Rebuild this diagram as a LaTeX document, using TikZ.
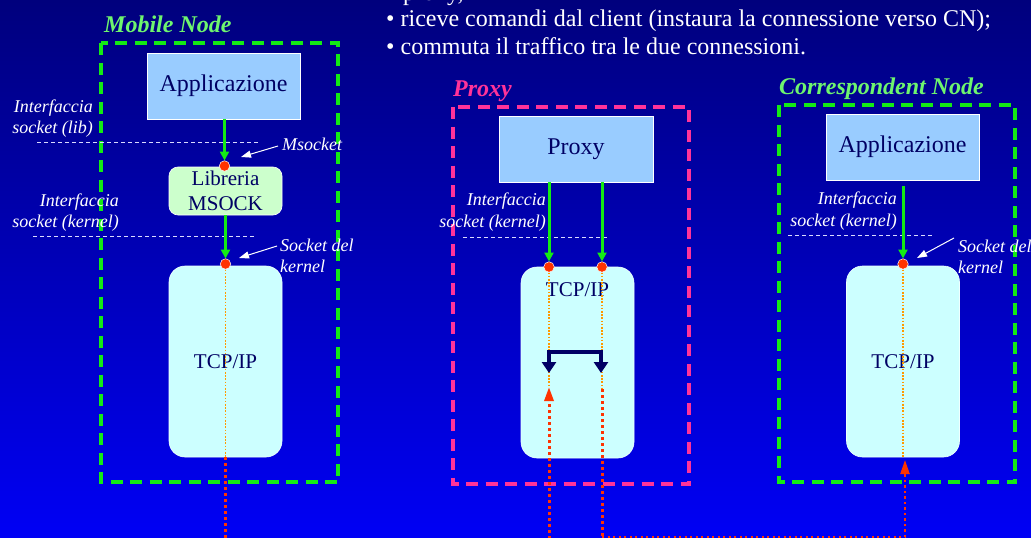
\documentclass[tikz,border=0pt]{standalone}
\usepackage{fontspec}
\setmainfont{Liberation Serif}
\usetikzlibrary{arrows.meta}

\definecolor{bgtop}{RGB}{0,0,125}
\definecolor{bgbot}{RGB}{0,0,245}
\definecolor{framegreen}{RGB}{20,235,20}
\definecolor{titlegreen}{RGB}{110,245,110}
\definecolor{proxypink}{RGB}{255,51,153}
\definecolor{appblue}{RGB}{153,204,255}
\definecolor{libgreen}{RGB}{204,255,204}
\definecolor{tcpcyan}{RGB}{204,255,255}
\definecolor{ink}{RGB}{0,0,100}
\definecolor{dotred}{RGB}{255,51,0}
\definecolor{traceorange}{RGB}{255,153,0}

\tikzset{
  bullettext/.style={text=white, inner sep=0pt, font=\fontsize{24}{27}\selectfont},
  title/.style={inner sep=0pt, font=\fontsize{24}{27}\selectfont\bfseries\itshape},
  hostframe/.style={line width=3.2pt, dash pattern=on 12pt off 7.5pt},
  appbox/.style={draw=white, line width=0.8pt, fill=appblue, text=ink, inner sep=0pt,
    minimum width=153pt, minimum height=66pt, font=\fontsize{24}{27}\selectfont},
  libbox/.style={draw=white, line width=0.6pt, fill=libgreen, text=ink, inner sep=0pt,
    rounded corners=9pt, minimum width=113pt, minimum height=48pt, align=center,
    font=\fontsize{21}{25}\selectfont},
  tcpbox/.style={draw=white!70!tcpcyan, line width=0.6pt, fill=tcpcyan, text=ink, inner sep=0pt,
    rounded corners=16pt, minimum width=113pt, minimum height=191pt,
    font=\fontsize{21}{25}\selectfont},
  tcptext/.style={text=ink, inner sep=0pt, font=\fontsize{21}{25}\selectfont},
  sockdot/.style={circle, fill=dotred, draw=white, line width=0.5pt, inner sep=0pt, minimum size=10.5pt},
  api/.style={draw=framegreen, line width=3pt, -{Triangle[length=9pt,width=9pt]}},
  note/.style={text=white, inner sep=0pt, font=\fontsize{18}{21.5}\selectfont\itshape},
  sep/.style={draw=white!85!blue, line width=0.8pt, dash pattern=on 4pt off 3pt},
  pointer/.style={draw=white, line width=1pt, -{Triangle[length=10pt,width=7pt]}},
  trace/.style={draw=traceorange, line width=1.6pt, dash pattern=on 1.6pt off 1.6pt},
  flow/.style={draw=dotred, line width=3pt, dash pattern=on 3pt off 3pt},
  flowthin/.style={draw=dotred, line width=2.2pt, dash pattern=on 2.2pt off 3.3pt},
  uptip/.style={-{Triangle[length=14pt,width=9pt]}},
  switchpath/.style={draw=ink, line width=4pt,
    {Triangle[length=11pt,width=14pt]}-{Triangle[length=11pt,width=14pt]}}
}

\begin{document}
\begin{tikzpicture}[x=1pt,y=-1pt]
\useasboundingbox (0,0) rectangle (1031,538);
\clip (0,0) rectangle (1031,538);
\shade[top color=bgtop, bottom color=bgbot] (0,0) rectangle (1031,538);

% bullet list at the top
\node[bullettext, anchor=base west] (cutline) at (403,1) {proxy,};
\node[bullettext, anchor=base west] (bulletA) at (386,27) {• riceve comandi dal client (instaura la connessione verso CN);};
\node[bullettext, anchor=base west] (bulletB) at (386,54) {• commuta il traffico tra le due connessioni.};

% host frames and titles
\draw[hostframe, framegreen] (101,43) rectangle (338,482);
\draw[hostframe, proxypink] (453,107) rectangle (689,484);
\draw[hostframe, framegreen] (779,105) rectangle (1015,482);

\node[title, text=titlegreen, anchor=base west] (mnTitle) at (104,32) {Mobile Node};
\node[title, text=proxypink, anchor=base west] (pxTitle) at (453,96) {Proxy};
\node[title, text=titlegreen, anchor=base west] (cnTitle) at (779,94) {Correspondent Node};

% ---------- Mobile Node ----------
\node[appbox] (mnApp) at (223.5,86) {Applicazione};
\node[libbox] (mnLib) at (225.5,191) {Libreria\\MSOCK};
\node[tcpbox] (mnTcp) at (225.5,361.5) {TCP/IP};
\node[sockdot] (mnLibSock) at (224.5,166) {};
\node[sockdot] (mnSock) at (225.5,264) {};

\draw[sep] (37,142) -- (258,142);
\draw[sep] (33,236) -- (255,236);

\node[note, align=right, anchor=east] (mnLibLbl) at (93,118.5) {Interfaccia\\socket (lib)};
\node[note, align=right, anchor=east] (mnKerLbl) at (119,212.5) {Interfaccia\\socket (kernel)};
\node[note, anchor=west] (msockLbl) at (282,144) {Msocket};
\node[note, align=left, anchor=west] (mnSkLbl) at (280,256) {Socket del\\kernel};

\draw[api] (mnApp.south -| mnLibSock) -- (mnLibSock.north);
\draw[api] (mnLib.south -| mnSock) -- (mnSock.north);

\coordinate (msockTip) at (241,157);
\coordinate (mnSkTip) at (239,258);
\draw[pointer] ([xshift=-4pt,yshift=-2pt]msockLbl.west) -- (msockTip);
\draw[pointer] ([xshift=-3pt,yshift=10pt]mnSkLbl.west) -- (mnSkTip);

\coordinate (mnOut) at (225.5,545);
\draw[trace] (mnSock.south) -- (mnTcp.south -| mnSock);
\draw[flow] (mnTcp.south -| mnSock) -- (mnOut);

% ---------- Proxy ----------
\node[appbox, minimum width=154pt] (pxApp) at (576,149) {Proxy};
\node[tcpbox] (pxTcp) at (577.5,362.5) {};
\node[tcptext] (pxTcpLbl) at (577.5,290) {TCP/IP};
\node[sockdot] (pxSockA) at (549,267) {};
\node[sockdot] (pxSockB) at (602,267) {};

\draw[sep] (463,237) -- (607,237);
\node[note, align=right, anchor=east] (pxKerLbl) at (546,212) {Interfaccia\\socket (kernel)};

\draw[api] (pxApp.south -| pxSockA) -- (pxSockA.north);
\draw[api] (pxApp.south -| pxSockB) -- (pxSockB.north);

\coordinate (pxTurnA) at (549,387);
\coordinate (pxTurnB) at (602,389);
\coordinate (pxInA) at (549,545);
\coordinate (pxCorner) at (602,537);
\draw[trace] (pxSockA.south) -- (pxTurnA);
\draw[trace] (pxSockB.south) -- (pxTurnB);
\draw[flow, uptip] (pxInA) -- (pxTurnA);
\draw[flow] (pxTurnB) -- (pxCorner);

% switching between the two connections
\coordinate (swA) at (549,373);
\coordinate (swB) at (601,373);
\draw[switchpath] (swA) -- (549,352) -- (601,352) -- (swB);

% ---------- Correspondent Node ----------
\node[appbox] (cnApp) at (902.5,147) {Applicazione};
\node[tcpbox] (cnTcp) at (903,361.5) {TCP/IP};
\node[sockdot] (cnSock) at (903,264) {};

\draw[sep] (788,235) -- (933,235);
\node[note, align=right, anchor=east] (cnKerLbl) at (897,211) {Interfaccia\\socket (kernel)};
\node[note, align=left, anchor=west] (cnSkLbl) at (958,257) {Socket del\\kernel};

\draw[api, shorten <=6pt] (cnApp.south -| cnSock) -- (cnSock.north);
\coordinate (cnSkTip) at (917,258);
\draw[pointer] ([xshift=-4pt,yshift=19pt]cnSkLbl.west) -- (cnSkTip);

\coordinate (cnIn) at (905,537);
\coordinate (cnTip) at (905,460);
\draw[trace] (cnSock.south) -- (cnTcp.south -| cnSock);
\draw[flowthin] (pxCorner) -- (cnIn);
\draw[flowthin, uptip] (cnIn) -- (cnTip);
\end{tikzpicture}
\end{document}
